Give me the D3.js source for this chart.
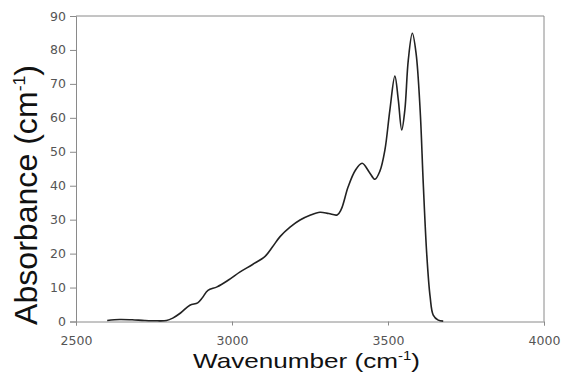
<!DOCTYPE html>
<html><head><meta charset="utf-8">
<script src="https://cdn.jsdelivr.net/npm/d3@7"></script>
<style>body{margin:0;background:#fff}svg{display:block}</style>
</head><body>
<script>
const wavenumber = [2600,2640,2680,2720,2760,2790,2810,2835,2865,2890,2905,2923,2952,2990,3026,3066,3106,3130,3154,3186,3218,3250,3282,3310,3337,3350,3372,3395,3417,3440,3458,3474,3490,3506,3522,3533,3544,3554,3565,3578,3590,3603,3613,3624,3635,3645,3661,3677];
const absorbance = [0.3,0.6,0.5,0.3,0.2,0.3,1.0,2.5,4.8,5.5,7.0,9.2,10.2,12.3,14.6,16.8,19.2,22,25,27.8,29.9,31.3,32.2,31.8,31.4,33,39.6,44.5,46.6,44,41.9,44.3,50.5,62.3,72.3,65.3,56.4,62.3,77,84.9,79,62.3,40.7,20.1,7.3,1.9,0.4,0.1];
const xTicks = [2500,3000,3500,4000];
const yTicks = [0,10,20,30,40,50,60,70,80,90];

const W=562,H=374;
const svg=d3.select("body").append("svg").attr("width",W).attr("height",H);
const L=76,R=544,T=16,B=321.5;
const x=d3.scaleLinear().domain([2500,4000]).range([L,R]);
const y=d3.scaleLinear().domain([0,90]).range([B,T]);
const axisColor="#8a8a8a";

// border (top/right)
svg.append("path").attr("d",`M${L},${T}H${R}V${B}`).attr("fill","none").attr("stroke",axisColor).attr("stroke-width",1);

const gx=svg.append("g").attr("transform",`translate(0,${B})`)
  .call(d3.axisBottom(x).tickValues(xTicks).tickSize(4).tickPadding(11).tickFormat(d3.format("d")));
const gy=svg.append("g").attr("transform",`translate(${L},0)`)
  .call(d3.axisLeft(y).tickValues(yTicks).tickSize(6).tickPadding(4));
[gx,gy].forEach(g=>{
  g.selectAll("path,line").attr("stroke",axisColor);
  g.selectAll("text").attr("fill","#555").style("font-family","Tahoma,'DejaVu Sans',sans-serif").style("font-size","12.5px");
});

const line=d3.line().x((d,i)=>x(wavenumber[i])).y(d=>y(d)).curve(d3.curveCatmullRom.alpha(0.5));
svg.append("path").datum(absorbance).attr("d",line).attr("fill","none").attr("stroke","#222").attr("stroke-width",1.6);

// x title
const xt=svg.append("text").attr("x",193).attr("y",368).attr("fill","#111")
  .style("font-family","'Liberation Sans',Arial,sans-serif").style("font-size","21px")
  .attr("textLength",227).attr("lengthAdjust","spacingAndGlyphs");
xt.append("tspan").text("Wavenumber (cm");
xt.append("tspan").attr("dy",-8).style("font-size","12px").text("-1");
xt.append("tspan").attr("dy",8).text(")");

// y title
const yt=svg.append("text").attr("transform",`translate(37,325) rotate(-90)`).attr("fill","#111")
  .style("font-family","'Liberation Sans',Arial,sans-serif").style("font-size","31px")
  .attr("textLength",260).attr("lengthAdjust","spacingAndGlyphs");
yt.append("tspan").text("Absorbance (cm");
yt.append("tspan").attr("dy",-12).style("font-size","17px").text("-1");
yt.append("tspan").attr("dy",12).text(")");
</script>
</body></html>
